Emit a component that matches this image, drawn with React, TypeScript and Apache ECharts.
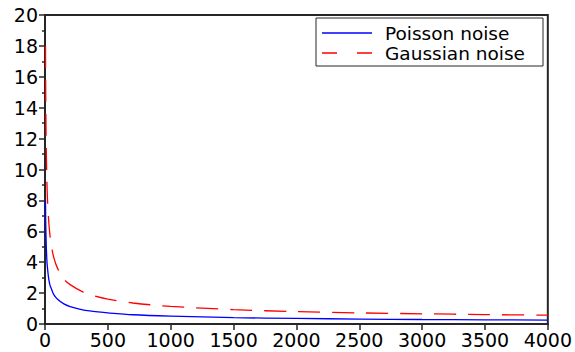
import React, { useEffect, useRef } from "react";
import * as echarts from "echarts";

// Sample positions along the horizontal axis
const xs = [4, 5, 6, 8, 10, 15, 20, 30, 40, 50, 70, 100, 150, 200, 300, 400, 500, 700, 1000, 1500, 2000, 2500, 3000, 3500, 4000];
// Poisson noise curve
const poisson = [8.0, 7.2, 6.5, 5.7, 5.1, 4.1, 3.6, 2.9, 2.5, 2.3, 1.9, 1.6, 1.3, 1.13, 0.92, 0.8, 0.72, 0.6, 0.51, 0.41, 0.36, 0.32, 0.29, 0.27, 0.25];
// Gaussian noise curve
const gaussian = [18.0, 16.1, 14.7, 12.7, 11.4, 9.3, 8.0, 6.6, 5.7, 5.1, 4.3, 3.6, 2.9, 2.55, 2.08, 1.8, 1.61, 1.36, 1.14, 0.93, 0.8, 0.72, 0.66, 0.61, 0.57];

const seriesNames = ["Poisson noise", "Gaussian noise"];
const seriesColors = ["#0000ff", "#ff0000"];
const FONT = "DejaVu Sans";
const AXIS_COLOR = "#262626";
const DASH = [22, 12];

export default function App() {
  const ref = useRef<HTMLDivElement>(null);

  useEffect(() => {
    if (!ref.current) return;
    const chart = echarts.init(ref.current, null, { renderer: "svg" });
    const axisCommon = {
      axisLine: { show: true, lineStyle: { color: AXIS_COLOR, width: 2 } },
      axisTick: { show: true, inside: false, length: 6, lineStyle: { color: AXIS_COLOR, width: 1.5 } },
      axisLabel: { color: "#000", fontFamily: FONT, fontSize: 19, formatter: (v: number) => String(v) },
      splitLine: { show: false },
    };

    // Boxed legend in the upper right corner of the plot
    const lx = 316, ly = 18, lw = 227, lh = 48;
    const rowY = [33, 53];
    const legendGraphics: any[] = [
      {
        type: "rect",
        shape: { x: lx, y: ly, width: lw, height: lh },
        style: { fill: "#fff", stroke: AXIS_COLOR, lineWidth: 1 },
        z: 100,
      },
    ];
    seriesNames.forEach((name, i) => {
      legendGraphics.push({
        type: "line",
        shape: { x1: lx + 6, y1: rowY[i], x2: lx + 56, y2: rowY[i] },
        style: { stroke: seriesColors[i], lineWidth: 1.3, lineDash: i === 1 ? [15, 20] : null },
        z: 101,
      });
      legendGraphics.push({
        type: "text",
        x: lx + 69,
        y: rowY[i],
        style: { text: name, fill: "#000", font: `18.5px "${FONT}"`, verticalAlign: "middle", align: "left" },
        z: 101,
      });
    });

    chart.setOption({
      animation: false,
      backgroundColor: "#fff",
      grid: {
        left: 45,
        right: 26,
        top: 15,
        bottom: 28,
        show: true,
        borderColor: AXIS_COLOR,
        borderWidth: 2,
        backgroundColor: "transparent",
      },
      xAxis: {
        type: "value",
        min: 0,
        max: 4000,
        interval: 500,
        ...axisCommon,
        axisLabel: { ...axisCommon.axisLabel, margin: 6 },
      },
      yAxis: {
        type: "value",
        min: 0,
        max: 20,
        interval: 2,
        ...axisCommon,
        axisLabel: { ...axisCommon.axisLabel, margin: 7 },
        minorTick: { show: true, splitNumber: 2, length: 3, lineStyle: { color: AXIS_COLOR, width: 1.5 } },
      },
      graphic: legendGraphics,
      series: [
        {
          name: seriesNames[0],
          type: "line",
          data: xs.map((x, i) => [x, poisson[i]]),
          smooth: 0.3,
          showSymbol: false,
          symbol: "none",
          lineStyle: { color: seriesColors[0], width: 1.3 },
        },
        {
          name: seriesNames[1],
          type: "line",
          data: xs.map((x, i) => [x, gaussian[i]]),
          smooth: 0.3,
          showSymbol: false,
          symbol: "none",
          lineStyle: { color: seriesColors[1], width: 1.3, type: DASH },
        },
      ],
    });
    return () => chart.dispose();
  }, []);

  return <div ref={ref} style={{ width: 575, height: 352, position: "absolute", left: 0, top: 0 }} />;
}
